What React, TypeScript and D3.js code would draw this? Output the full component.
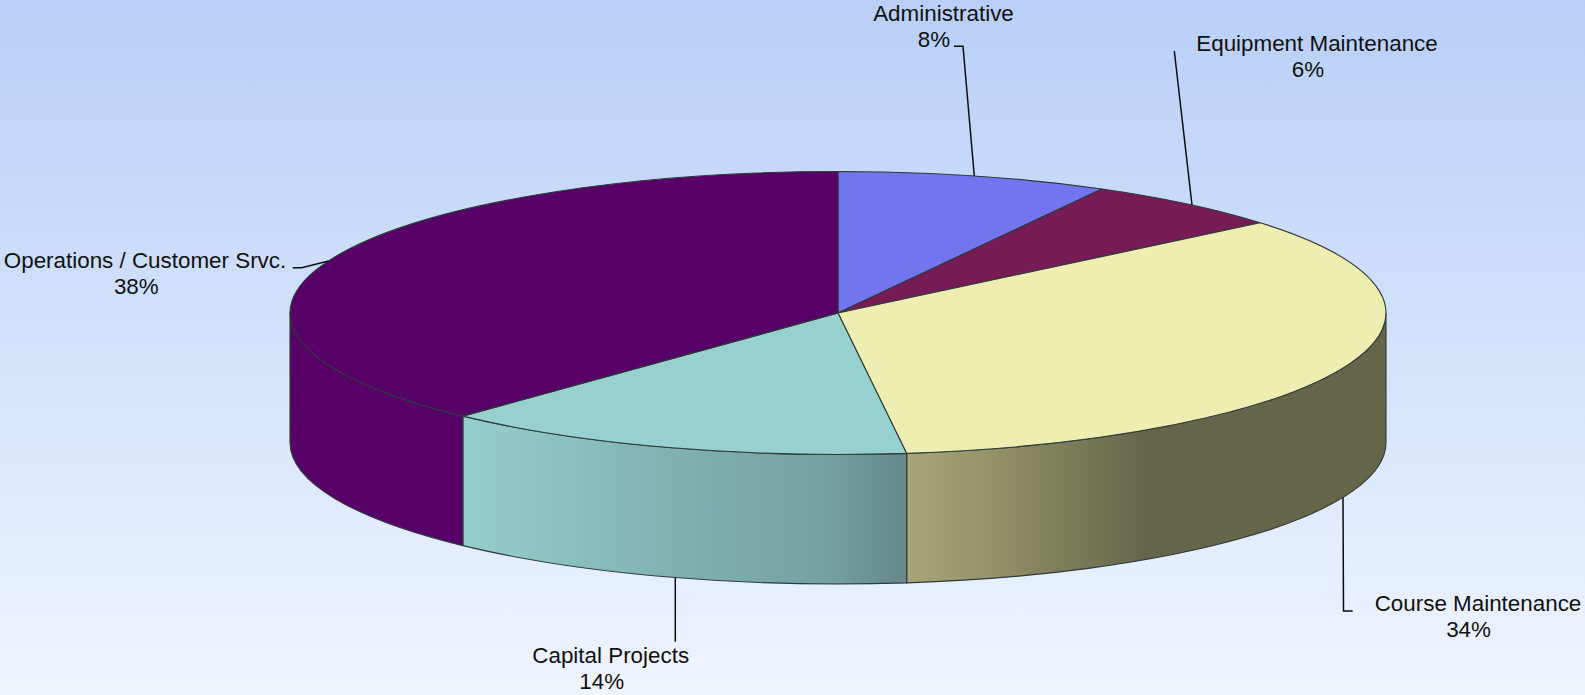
import React from "react";
import * as d3 from "d3";

// Budget shares, in clockwise order from twelve o'clock
const categories = [
  "Administrative",
  "Equipment Maintenance",
  "Course Maintenance",
  "Capital Projects",
  "Operations / Customer Srvc.",
];
const shares = [8, 6, 34, 14, 38];

const topColors = ["#7375ee", "#771b56", "#eeeeb0", "#96d0cf", "#560068"];

// Shading stops for the front rim, as [x fraction of the visible rim, colour]
const rimStops: ([number, string][] | null)[] = [
  null,
  null,
  [[0, "#a8a678"], [0.2, "#908f68"], [0.42, "#717052"], [0.5, "#65654a"], [1, "#65654a"]],
  [[0, "#94cfcc"], [0.5, "#7fb0ae"], [0.8, "#76a3a2"], [1, "#66898b"]],
  [[0, "#560068"], [1, "#560068"]],
];

// Label placement: name centre, share centre, first-line baseline, leader elbows,
// and where the leader meets the pie's edge when that differs from the slice middle
const labelLayout: {
  nameX: number;
  shareX: number;
  y: number;
  elbows: number[][];
  edgeX?: number;
}[] = [
  { nameX: 943.5, shareX: 934, y: 21, elbows: [[954, 46.3], [963, 46.3]] },
  { nameX: 1317, shareX: 1308, y: 51, elbows: [[1174.3, 51]], edgeX: 1192 },
  { nameX: 1478, shareX: 1468.6, y: 611, elbows: [[1352.7, 611], [1343.5, 611]], edgeX: 1343 },
  { nameX: 610.7, shareX: 601.7, y: 663, elbows: [[675.3, 641.7]], edgeX: 675.3 },
  { nameX: 145, shareX: 136.3, y: 268, elbows: [[292.7, 267.7], [301.7, 267.7]] },
];

const WIDTH = 1585;
const HEIGHT = 695;
const CX = 838;
const CY = 313;
const RX = 548;
const RY = 141.5;
const DEPTH = 129.5;
const LINE_GAP = 26.3;
const EDGE = "#2f3a3a";

const ellipseX = (a: number) => CX + RX * Math.sin(a);
const ellipseY = (a: number) => CY - RY * Math.cos(a);

const slices = d3.pie<number>().sort(null)(shares);
const sliceArc = d3.arc<d3.PieArcDatum<number>>().innerRadius(0).outerRadius(RX);

// Outline of the part of a slice's rim that faces the viewer
function rimPath(start: number, end: number) {
  const a0 = Math.max(start, Math.PI / 2);
  const a1 = Math.min(end, (3 * Math.PI) / 2);
  if (a1 <= a0) return null;
  const [x0, y0, x1, y1] = [ellipseX(a0), ellipseY(a0), ellipseX(a1), ellipseY(a1)];
  return {
    x0: Math.min(x0, x1),
    x1: Math.max(x0, x1),
    d:
      `M${x0},${y0}A${RX},${RY} 0 0 1 ${x1},${y1}` +
      `L${x1},${y1 + DEPTH}A${RX},${RY} 0 0 0 ${x0},${y0 + DEPTH}Z`,
  };
}

// Point where a leader touches the pie: the top rim behind, the bottom rim in front
function leaderEnd(mid: number, edgeX?: number) {
  const front = Math.cos(mid) < 0 && Math.abs(Math.sin(mid)) < 0.95;
  const x = edgeX ?? ellipseX(mid);
  const half = RY * Math.sqrt(1 - ((x - CX) / RX) ** 2);
  const y = Math.cos(mid) < 0 ? CY + half : CY - half;
  return [x, y + (front ? DEPTH : 0)];
}

export default function App() {
  const rims = slices.map((s) => rimPath(s.startAngle, s.endAngle));
  return (
    <svg
      width={WIDTH}
      height={HEIGHT}
      style={{ position: "absolute", left: 0, top: 0, display: "block" }}
      fontFamily="'Liberation Sans', Arial, sans-serif"
    >
      <defs>
        <linearGradient id="backdrop" x1="0" y1="0" x2="0" y2="1">
          <stop offset="0" stopColor="#b9cff7" />
          <stop offset="1" stopColor="#eff5ff" />
        </linearGradient>
        {rims.map((r, i) =>
          r && rimStops[i] ? (
            <linearGradient
              key={i}
              id={`rim-${i}`}
              gradientUnits="userSpaceOnUse"
              x1={r.x0}
              x2={r.x1}
              y1={0}
              y2={0}
            >
              {rimStops[i]!.map(([o, c]) => (
                <stop key={o} offset={o} stopColor={c} />
              ))}
            </linearGradient>
          ) : null
        )}
      </defs>
      <rect width={WIDTH} height={HEIGHT} fill="url(#backdrop)" />

      {rims.map((r, i) =>
        r ? (
          <path key={i} d={r.d} fill={`url(#rim-${i})`} stroke={EDGE} strokeWidth={1.1} strokeLinejoin="round" />
        ) : null
      )}

      <g transform={`translate(${CX},${CY}) scale(1,${RY / RX})`}>
        {slices.map((s, i) => (
          <path
            key={i}
            d={sliceArc(s)!}
            fill={topColors[i]}
            stroke={EDGE}
            strokeWidth={1.1}
            strokeLinejoin="round"
            vectorEffect="non-scaling-stroke"
          />
        ))}
      </g>

      {slices.map((s, i) => {
        const layout = labelLayout[i];
        const mid = (s.startAngle + s.endAngle) / 2;
        const end = leaderEnd(mid, layout.edgeX);
        const leader = d3.line()([...layout.elbows, end] as [number, number][])!;
        return (
          <g key={i}>
            <path d={leader} fill="none" stroke="#0d0d0d" strokeWidth={1.5} />
            <text fill="#111" fontSize={22.4} textAnchor="middle">
              <tspan x={layout.nameX} y={layout.y}>{categories[i]}</tspan>
              <tspan x={layout.shareX} y={layout.y + LINE_GAP}>{`${shares[i]}%`}</tspan>
            </text>
          </g>
        );
      })}
    </svg>
  );
}
